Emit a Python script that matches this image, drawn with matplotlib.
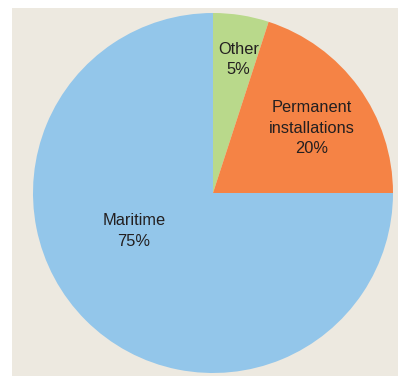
import matplotlib
matplotlib.use('Agg')
import matplotlib.pyplot as plt
from matplotlib.patches import Rectangle

# --- Data ---
categories = ["Other", "Permanent\ninstallations", "Maritime"]
shares = [5, 20, 75]
colors = ["#b9d98b", "#f58345", "#93c6ea"]
# label anchor positions (fraction of radius), one per slice
label_pos = [(0.14, 0.74), (0.55, 0.36), (-0.44, -0.21)]

W, H = 398, 376
fig = plt.figure(figsize=(W / 100, H / 100), dpi=100)
fig.patch.set_facecolor('white')
fig.patches.append(Rectangle((12 / W, 0), 1 - 12 / W, 1 - 8 / H,
                             transform=fig.transFigure, facecolor='#ede9e0',
                             edgecolor='none', zorder=-10))

r_px = 180
ax = fig.add_axes([(213 - r_px) / W, (183 - r_px) / H, 2 * r_px / W, 2 * r_px / H])
ax.set_facecolor('none')
ax.pie(shares, colors=colors, startangle=90, counterclock=False,
       wedgeprops=dict(linewidth=0), radius=1.0)
ax.set_xlim(-1, 1)
ax.set_ylim(-1, 1)
ax.set_aspect('equal')
ax.axis('off')

for cat, val, (x, y) in zip(categories, shares, label_pos):
    ax.text(x, y, f"{cat}\n{val}%", ha='center', va='center', fontsize=11.8,
            family=['Liberation Sans', 'DejaVu Sans'], color='#231f20',
            linespacing=1.45)

fig.savefig('out.png', dpi=100)
